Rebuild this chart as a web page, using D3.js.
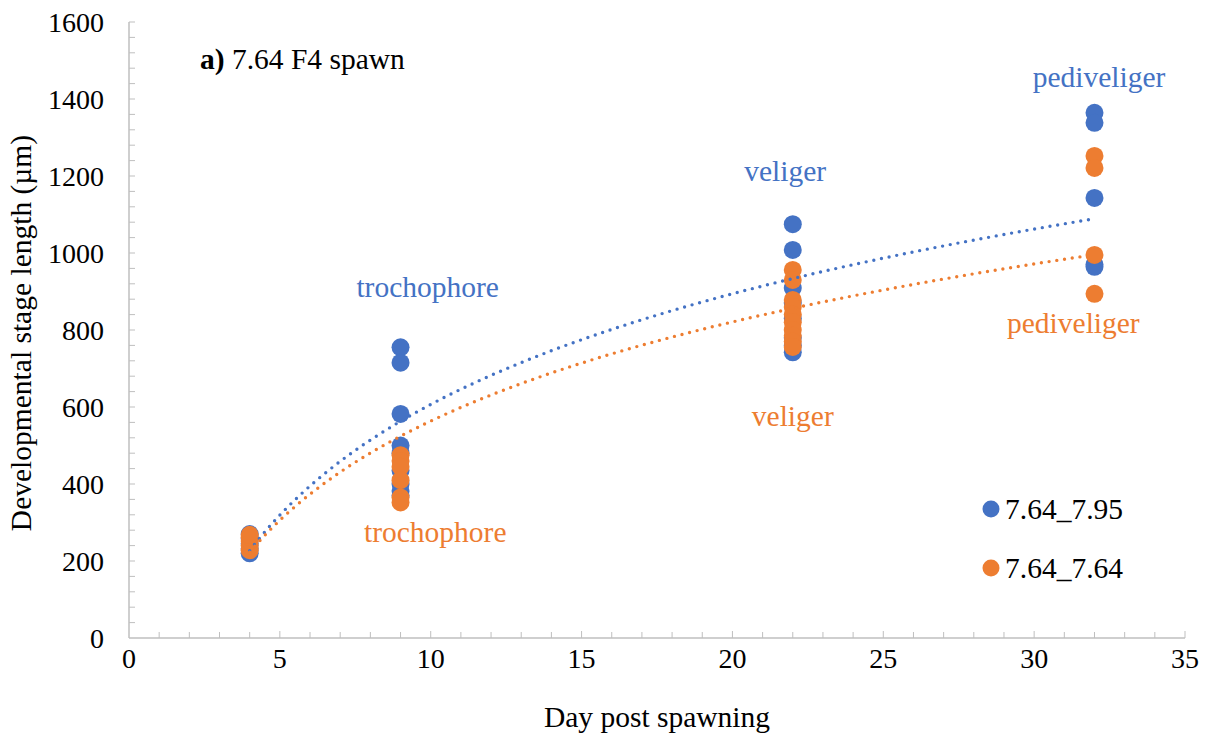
<!DOCTYPE html>
<html>
<head>
<meta charset="utf-8">
<script src="https://cdn.jsdelivr.net/npm/d3@7"></script>
<style>
  html, body { margin: 0; padding: 0; background: #fff; }
  svg { display: block; font-family: "Liberation Serif", "Times New Roman", serif; }
</style>
</head>
<body>
<svg id="chart" width="1209" height="735"></svg>
<script>
// Larval length measurements (µm) by day post spawning
const blueDays   = [4, 4, 4, 4, 4, 9, 9, 9, 9, 9, 9, 9, 9, 9, 22, 22, 22, 22, 22, 22, 22, 22, 32, 32, 32, 32, 32];
const blueValues = [220, 232, 245, 258, 270, 755, 715, 582, 500, 480, 435, 400, 382, 370, 1075, 1008, 909, 870, 830, 780, 760, 742, 1364, 1338, 1143, 970, 964];
const orangeDays   = [4, 4, 4, 4, 4, 9, 9, 9, 9, 9, 9, 22, 22, 22, 22, 22, 22, 22, 22, 22, 22, 32, 32, 32, 32];
const orangeValues = [228, 240, 252, 262, 268, 475, 460, 445, 410, 365, 352, 956, 930, 878, 860, 840, 820, 800, 785, 770, 756, 1252, 1221, 995, 894];

const seriesNames = ["7.64_7.95", "7.64_7.64"];
const seriesColors = ["#4472C4", "#ED7D31"];

// Logarithmic trendlines y = a·ln(day) + b
const blueTrend = { a: 414.6, b: -348 };
const orangeTrend = { a: 371.5, b: -292 };
const trendRange = [4, 31.9];

const xTicks = [0, 5, 10, 15, 20, 25, 30, 35];
const yTicks = [0, 200, 400, 600, 800, 1000, 1200, 1400, 1600];

// Stage labels: [text, day, value] at the text baseline centre
const blueStages = [["trochophore", 9.9, 885], ["veliger", 21.75, 1186], ["pediveliger", 32.15, 1430]];
const orangeStages = [["trochophore", 10.15, 249], ["veliger", 22.0, 550], ["pediveliger", 31.3, 792]];

const svg = d3.select("#chart");
const x = d3.scaleLinear().domain([0, 35]).range([129, 1185]);
const y = d3.scaleLinear().domain([0, 1600]).range([638, 22]);
const axisColor = "#bfbfbf";
const textSize = 29.5;
const tickSize = 28;

// Axis lines
const g = svg.append("g");
g.append("line").attr("x1", x(0)).attr("x2", x(35)).attr("y1", y(0)).attr("y2", y(0))
  .attr("stroke", axisColor).attr("stroke-width", 1.5);
g.append("line").attr("x1", x(0)).attr("x2", x(0)).attr("y1", y(0)).attr("y2", y(1600))
  .attr("stroke", axisColor).attr("stroke-width", 1.5);

// Minor ticks on x (every day) and y (every 40 µm), pointing into the plot
g.selectAll(".xminor").data(d3.range(1, 36)).join("line")
  .attr("x1", d => x(d)).attr("x2", d => x(d))
  .attr("y1", y(0)).attr("y2", d => y(0) - (d % 5 === 0 ? 7 : 6))
  .attr("stroke", axisColor).attr("stroke-width", 1);
g.selectAll(".yminor").data(d3.range(40, 1601, 40)).join("line")
  .attr("x1", x(0)).attr("x2", x(0) + 6)
  .attr("y1", d => y(d)).attr("y2", d => y(d))
  .attr("stroke", axisColor).attr("stroke-width", 1);

// Tick labels
svg.selectAll(".xlab").data(xTicks).join("text")
  .attr("x", d => x(d)).attr("y", 668)
  .attr("text-anchor", "middle").attr("font-size", tickSize).attr("fill", "#000")
  .text(d => d);
svg.selectAll(".ylab").data(yTicks).join("text")
  .attr("x", 104).attr("y", d => y(d) + 10)
  .attr("text-anchor", "end").attr("font-size", tickSize).attr("fill", "#000")
  .text(d => d);

// Axis titles
svg.append("text").attr("x", 657).attr("y", 727).attr("text-anchor", "middle")
  .attr("font-size", textSize).text("Day post spawning");
svg.append("text").attr("transform", "translate(31,333) rotate(-90)")
  .attr("text-anchor", "middle").attr("font-size", textSize).text("Developmental stage length (µm)");

// Panel label
const pl = svg.append("text").attr("x", 200).attr("y", 69).attr("font-size", textSize);
pl.append("tspan").attr("font-weight", "bold").text("a)");
pl.append("tspan").text(" 7.64 F4 spawn");

// Points (blue first, orange drawn on top)
function drawPoints(xs, ys, color) {
  svg.append("g").selectAll("circle").data(xs.map((d, i) => [d, ys[i]])).join("circle")
    .attr("cx", d => x(d[0])).attr("cy", d => y(d[1])).attr("r", 9)
    .attr("fill", color);
}

// Dotted logarithmic trendline
function drawTrend(fit, color) {
  const days = d3.range(trendRange[0], trendRange[1] + 0.001, 0.1);
  const line = d3.line().x(d => x(d)).y(d => y(fit.a * Math.log(d) + fit.b));
  svg.append("path").datum(days).attr("d", line)
    .attr("fill", "none").attr("stroke", color).attr("stroke-width", 3.4)
    .attr("stroke-linecap", "round").attr("stroke-dasharray", "0 7.8");
}

drawPoints(blueDays, blueValues, seriesColors[0]);
drawPoints(orangeDays, orangeValues, seriesColors[1]);
drawTrend(blueTrend, seriesColors[0]);
drawTrend(orangeTrend, seriesColors[1]);

// Stage labels
svg.selectAll(".bstage").data(blueStages).join("text")
  .attr("x", d => x(d[1])).attr("y", d => y(d[2]))
  .attr("text-anchor", "middle").attr("font-size", textSize).attr("fill", seriesColors[0])
  .text(d => d[0]);
svg.selectAll(".ostage").data(orangeStages).join("text")
  .attr("x", d => x(d[1])).attr("y", d => y(d[2]))
  .attr("text-anchor", "middle").attr("font-size", textSize).attr("fill", seriesColors[1])
  .text(d => d[0]);

// Legend
const legend = svg.append("g").selectAll("g").data(seriesNames).join("g")
  .attr("transform", (d, i) => `translate(991,${509 + i * 59})`);
legend.append("circle").attr("r", 8.5).attr("fill", (d, i) => seriesColors[i]);
legend.append("text").attr("x", 14).attr("y", 10).attr("font-size", textSize).text(d => d);
</script>
</body>
</html>
